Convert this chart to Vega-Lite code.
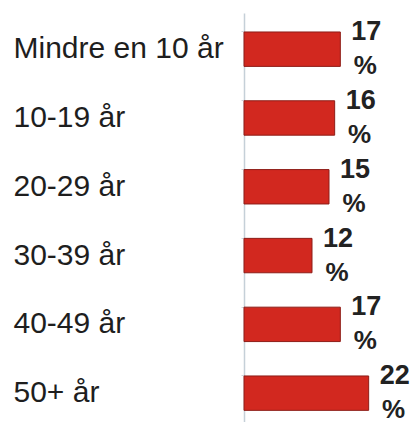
{
  "$schema": "https://vega.github.io/schema/vega-lite/v6.json",
  "autosize": "none",
  "width": 170,
  "height": 409,
  "padding": {"left": 244, "top": 13, "right": 1, "bottom": 0},
  "background": "white",
  "config": {"view": {"stroke": null}, "font": "Liberation Sans"},
  "data": {
    "values": [
      {"group": "Mindre en 10 år", "value": 17},
      {"group": "10-19 år", "value": 16},
      {"group": "20-29 år", "value": 15},
      {"group": "30-39 år", "value": 12},
      {"group": "40-49 år", "value": 17},
      {"group": "50+ år", "value": 22}
    ]
  },
  "encoding": {
    "y": {
      "field": "group",
      "type": "nominal",
      "sort": null,
      "scale": {"paddingInner": 0.5, "paddingOuter": 0.2225, "align": 0.62},
      "axis": {
        "title": null,
        "domainColor": "#c5d0d8",
        "domainWidth": 1.5,
        "ticks": true,
        "tickColor": "#d0d6dc",
        "tickSize": 3,
        "bandPosition": 0,
        "labelAlign": "left",
        "labelPadding": 228,
        "labelFontSize": 30,
        "labelFont": "Liberation Sans",
        "labelColor": "#1e1e1e",
        "labelLimit": 300
      }
    },
    "x": {
      "field": "value",
      "type": "quantitative",
      "scale": {"domain": [0, 30], "nice": false},
      "axis": null
    }
  },
  "layer": [
    {
      "mark": {"type": "bar", "color": "#d2281f", "stroke": "#8e1d18", "strokeWidth": 1}
    },
    {
      "mark": {"type": "text", "align": "center", "baseline": "middle", "dx": 26, "dy": -17, "fontSize": 27, "fontWeight": "bold", "color": "#222222", "font": "Liberation Sans"},
      "encoding": {"text": {"field": "value", "type": "quantitative"}}
    },
    {
      "mark": {"type": "text", "align": "center", "baseline": "middle", "dx": 25, "dy": 17, "fontSize": 26, "fontWeight": "bold", "color": "#222222", "font": "Liberation Sans", "text": "%"}
    }
  ]
}
